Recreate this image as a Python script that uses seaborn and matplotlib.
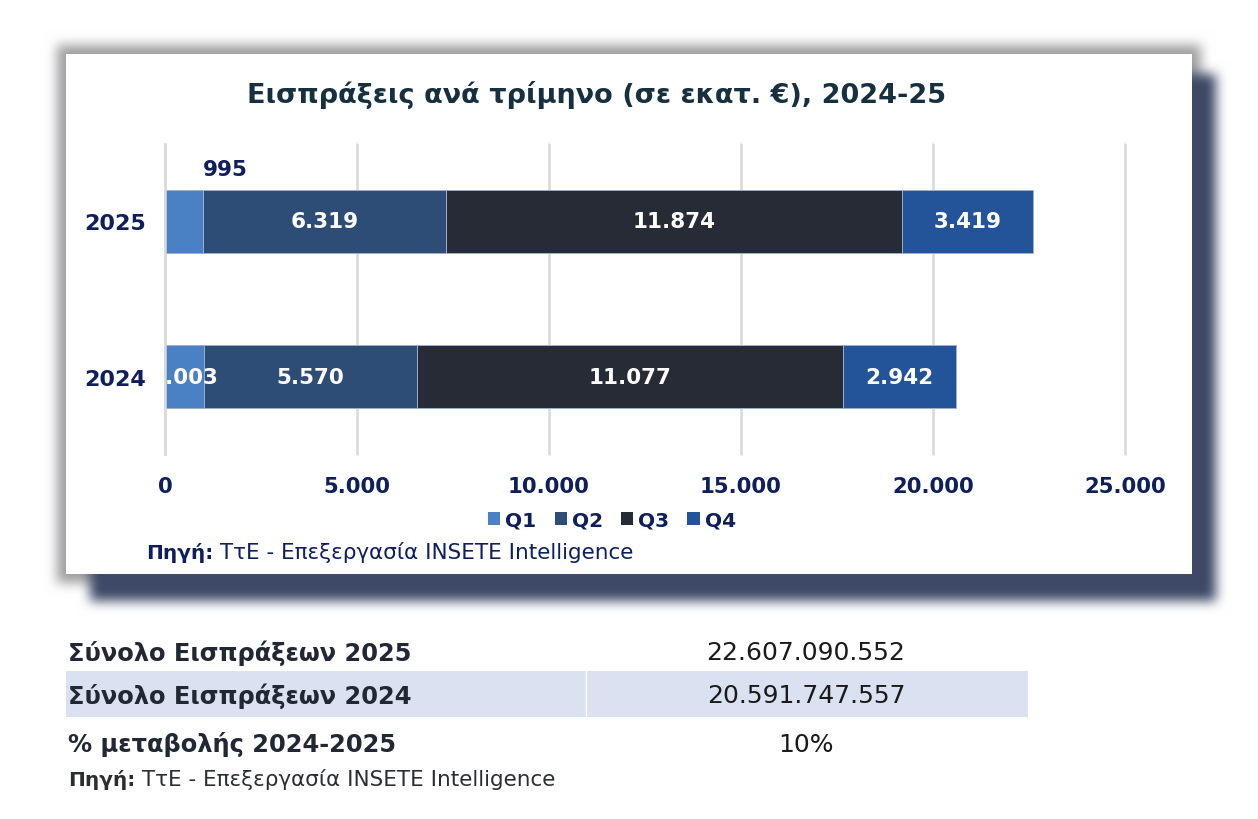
import numpy as np
import pandas as pd
import matplotlib
matplotlib.use("Agg")
import matplotlib.pyplot as plt
import seaborn as sns
from matplotlib.patches import Rectangle, Patch
from matplotlib.ticker import FuncFormatter

# Receipts per quarter (million EUR)
years = ["2025", "2024"]
quarters = ["Q1", "Q2", "Q3", "Q4"]
q1 = [995, 1003]
q2 = [6319, 5570]
q3 = [11874, 11077]
q4 = [3419, 2942]

# summary table below the chart
table_labels = ["Σύνολο Εισπράξεων 2025", "Σύνολο Εισπράξεων 2024", "% μεταβολής 2024-2025"]
table_values = ["22.607.090.552", "20.591.747.557", "10%"]

colors = {"Q1": "#4A80C4", "Q2": "#2D4D77", "Q3": "#262B35", "Q4": "#235399"}
navy = "#0E1F5B"
title_col = "#17303F"

sns.set_style("white")
plt.rcParams["font.family"] = ["DejaVu Sans"]

W, H = 1258, 820
fig = plt.figure(figsize=(W / 100, H / 100), dpi=100)

# ---- background: card with blurred shadow ----
bg = fig.add_axes([0, 0, 1, 1], zorder=0)
bg.set_xlim(0, W)
bg.set_ylim(H, 0)
bg.axis("off")


def box_blur(a, r, n=3):
    for _ in range(n):
        p = np.pad(a, [(r + 1, r), (0, 0)], mode="edge")
        c = np.cumsum(p, axis=0)
        a = (c[2 * r + 1:, :] - c[:-2 * r - 1, :]) / (2 * r + 1)
        p = np.pad(a, [(0, 0), (r + 1, r)], mode="edge")
        c = np.cumsum(p, axis=1)
        a = (c[:, 2 * r + 1:] - c[:, :-2 * r - 1]) / (2 * r + 1)
    return a


card = (66, 55, 1192, 575)
glow = np.zeros((H, W))
glow[card[1] - 9:card[3] + 9, card[0] - 9:card[2] + 9] = 1
glow = box_blur(glow, 5)
shadow = np.zeros((H, W))
shadow[card[1] + 20:card[3] + 27, card[0] + 24:card[2] + 24] = 1
shadow = box_blur(shadow, 5)

img = np.ones((H, W, 3))
gray = np.array([0.58, 0.58, 0.59])
sh_col = np.array(matplotlib.colors.to_rgb("#3D4966"))
ag = glow[..., None] * 0.9
img = img * (1 - ag) + gray * ag
an = np.clip(shadow[..., None] * 1.0, 0, 1)
img = img * (1 - an) + sh_col * an
bg.imshow(img, extent=(0, W, H, 0), aspect="auto", interpolation="nearest")
bg.add_patch(Rectangle((card[0], card[1]), card[2] - card[0], card[3] - card[1],
                       facecolor="white", edgecolor="none"))

# ---- chart ----
ax = fig.add_axes([165 / W, 1 - 455 / H, 960 / W, 310 / H], zorder=1)
ax.patch.set_alpha(0)

df = pd.DataFrame({"year": years, "Q1": q1, "Q2": q2, "Q3": q3, "Q4": q4})
cum = df[quarters].cumsum(axis=1)

# stacked bars: draw cumulative totals from the longest down
for q in reversed(quarters):
    sns.barplot(x=cum[q].values, y=df["year"], order=years, orient="h", color=colors[q],
                saturation=1, width=0.41, errorbar=None, edgecolor="#9FB0CC",
                linewidth=0.7, ax=ax)

fmt = lambda v: f"{v:,.0f}".replace(",", ".")

for i, yr in enumerate(years):
    left = 0
    for q in quarters:
        val = df.loc[i, q]
        cx = left + val / 2
        if yr == "2025" and q == "Q1":
            ax.annotate(fmt(val), (cx, i), xytext=(30, 38), textcoords="offset points",
                        ha="center", va="center", fontsize=15.5, fontweight="bold", color=navy)
        else:
            ax.text(cx, i, fmt(val), ha="center", va="center", fontsize=15.5,
                    fontweight="bold", color="white", clip_on=True)
        left += val

ax.set_xlim(0, 25000)
ax.set_xticks(range(0, 25001, 5000))
ax.xaxis.set_major_formatter(FuncFormatter(lambda v, p: fmt(v)))
ax.set_ylim(1.5, -0.5)
ax.grid(axis="x", color="#D9D9D9", linewidth=1.8)
for gl in ax.get_xgridlines():
    gl.set_clip_on(False)
ax.set_axisbelow(True)
ax.set_xlabel("")
ax.set_ylabel("")
for s in ["top", "right", "bottom"]:
    ax.spines[s].set_visible(False)
ax.spines["left"].set_color("#D9D9D9")
ax.spines["left"].set_linewidth(1.8)
ax.set_yticks([-0.5, 0.5, 1.5], minor=True)
ax.tick_params(axis="y", which="minor", length=6, width=1.5, color="#D9D9D9")
ax.tick_params(axis="y", which="major", length=0, pad=14)
ax.tick_params(axis="x", length=0, pad=16)
for lab in ax.get_xticklabels():
    lab.set_fontsize(15.3)
    lab.set_fontweight("bold")
    lab.set_color(navy)
for lab in ax.get_yticklabels():
    lab.set_fontsize(16)
    lab.set_fontweight("bold")
    lab.set_color(navy)

fig.text(597 / W, 1 - 95 / H, "Εισπράξεις ανά τρίμηνο (σε εκατ. €), 2024-25",
         ha="center", va="center", fontsize=19.5, fontweight="bold", color=title_col)

handles = [Patch(facecolor=colors[q], edgecolor="none") for q in quarters]
fig.legend(handles, quarters, loc="center", bbox_to_anchor=(612 / W, 1 - 521 / H), ncol=4,
           frameon=False, prop={"weight": "bold", "size": 14.5}, labelcolor=navy,
           handlelength=0.6, handleheight=0.6, handletextpad=0.25, columnspacing=0.9)

t1 = bg.text(146, 553, "Πηγή:", ha="left", va="center", fontsize=14.5, fontweight="bold", color=navy)
bg.annotate(" ΤτΕ - Επεξεργασία INSETE Intelligence", xy=(1, 0.5), xycoords=t1,
            ha="left", va="center", fontsize=15.5, color=navy)

# ---- table below ----
bg.add_patch(Rectangle((66, 672), 962, 46, facecolor="#DAE1F0", edgecolor="none"))
bg.plot([586, 586], [672, 718], color="white", linewidth=1)
row_y = [653, 696, 745]
for lab, val, yy in zip(table_labels, table_values, row_y):
    bg.text(68, yy, lab, ha="left", va="center", fontsize=17.4, fontweight="bold", color="#222833")
    bg.text(806, yy, val, ha="center", va="center", fontsize=18, color="#1A1A1A")

t2 = bg.text(68, 780, "Πηγή:", ha="left", va="center", fontsize=14.5, fontweight="bold", color="#2A2E33")
bg.annotate(" ΤτΕ - Επεξεργασία INSETE Intelligence", xy=(1, 0.5), xycoords=t2,
            ha="left", va="center", fontsize=15.5, color="#2A2E33")

fig.savefig("out.png", dpi=100)
